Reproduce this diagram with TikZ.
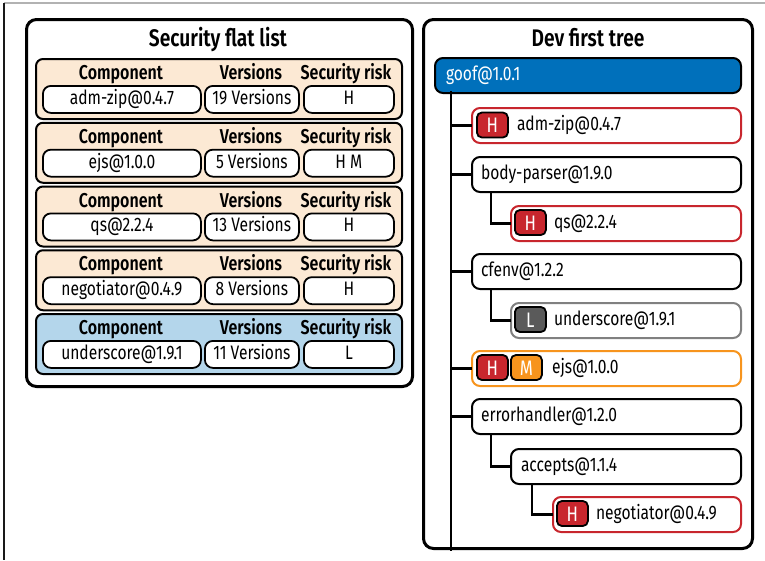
\documentclass[tikz,border=0pt]{standalone}
\usepackage{fontspec}
\setmainfont{Fira Sans}[FakeStretch=0.8, BoldFont={Fira Sans SemiBold}]
\definecolor{peach}{RGB}{252,233,212}
\definecolor{lowblue}{RGB}{180,214,235}
\definecolor{rootblue}{RGB}{0,112,187}
\definecolor{hred}{RGB}{200,38,45}
\definecolor{morange}{RGB}{247,148,29}
\definecolor{lgray}{RGB}{128,128,128}
\definecolor{lfill}{RGB}{90,90,90}
\newcommand\mybody{\fontsize{19.5}{23}\selectfont}
\newcommand\mybadge{\fontsize{21}{24}\selectfont}
\newcommand\myhead{\fontsize{20}{23}\selectfont\bfseries}
\newcommand\mytitle{\fontsize{24}{28}\selectfont\bfseries}
\begin{document}
\begin{tikzpicture}[x=1pt,y=-1pt,
  panel/.style={draw, line width=3pt, rounded corners=10pt, anchor=north west, inner sep=0pt},
  ptitle/.style={font=\mytitle, inner sep=0pt, anchor=base},
  rowbox/.style={draw, line width=2pt, rounded corners=7pt, minimum width=366pt,
    minimum height=60pt, anchor=north west, inner sep=0pt},
  hdr/.style={font=\myhead, inner sep=0pt, anchor=base},
  cell/.style={draw, line width=1.8pt, rounded corners=8pt, fill=white,
    minimum height=27pt, anchor=north west, inner sep=0pt, font=\mybody,
    text height=14pt, text depth=4pt},
  tnode/.style={draw, line width=2pt, rounded corners=8pt, fill=white,
    minimum height=35pt, anchor=north west, inner xsep=0pt, inner ysep=0pt,
    text width=#1, align=left, font=\mybody, text height=14pt, text depth=4pt},
  badge/.style={draw, line width=1.8pt, rounded corners=5pt, minimum width=31pt,
    minimum height=25pt, inner sep=0pt, text=white, font=\mybadge, anchor=west,
    text height=15pt, text depth=0pt},
  link/.style={line width=2.5pt, line cap=rect}]
\useasboundingbox (0,0) rectangle (765,560);

% page rules
\draw[gray!60, line width=1.3pt] (4,3) -- (765,3);
\draw[black!90, line width=2pt] (4,3) -- (4,560);

% ---------- flat list ----------
\node[panel, minimum width=386pt, minimum height=367pt] (flat) at (25,18) {};
\node[ptitle] (flattitle) at (218,46) {Security flat list};

\foreach \i/\comp/\ver/\risk/\fc in {
  0/adm-zip@0.4.7/19 Versions/H/peach,
  1/ejs@1.0.0/5 Versions/H M/peach,
  2/qs@2.2.4/13 Versions/H/peach,
  3/negotiator@0.4.9/8 Versions/H/peach,
  4/underscore@1.9.1/11 Versions/L/lowblue}{
  \pgfmathsetmacro\t{58+63.75*\i}
  \node[rowbox, fill=\fc] (row\i) at (35,\t) {};
  \node[hdr] (hc\i) at (121,\t+21.5) {Component};
  \node[hdr] (hv\i) at (251,\t+21.5) {Versions};
  \node[hdr] (hr\i) at (346,\t+21.5) {Security risk};
  \node[cell, minimum width=158pt] (comp\i) at (42,\t+27) {\comp};
  \node[cell, minimum width=94pt] (ver\i) at (204,\t+27) {\ver};
  \node[cell, minimum width=90pt] (risk\i) at (303,\t+27) {\risk};
}

% ---------- dependency tree ----------
\node[panel, minimum width=329pt, minimum height=529pt] (tree) at (422,18) {};
\node[ptitle] (treetitle) at (588,46) {Dev first tree};

\node[tnode=306pt, fill=rootblue, text=white] (goof) at (434,57) {\hspace*{11pt}goof@1.0.1};
\node[tnode=269pt, draw=hred] (admzip) at (471,107) {\hspace*{45pt}adm-zip@0.4.7};
\node[tnode=269pt] (bodyparser) at (471,156) {\hspace*{9pt}body-parser@1.9.0};
\node[tnode=230pt, draw=hred] (qs) at (510,205) {\hspace*{43pt}qs@2.2.4};
\node[tnode=269pt] (cfenv) at (471,253) {\hspace*{9pt}cfenv@1.2.2};
\node[tnode=230pt, draw=lgray] (underscore) at (510,302) {\hspace*{43pt}underscore@1.9.1};
\node[tnode=269pt, draw=morange] (ejs) at (471,350) {\hspace*{80pt}ejs@1.0.0};
\node[tnode=269pt] (errorhandler) at (471,398) {\hspace*{9pt}errorhandler@1.2.0};
\node[tnode=230pt] (accepts) at (510,448) {\hspace*{10pt}accepts@1.1.4};
\node[tnode=188pt, draw=hred] (negotiator) at (552,496) {\hspace*{43pt}negotiator@0.4.9};

% severity badges
\node[badge, fill=hred] (bAdm) at (476,125) {H};
\node[badge, fill=hred] (bQs) at (514,222.5) {H};
\node[badge, fill=lfill] (bUnd) at (514,319.5) {L};
\node[badge, fill=hred] (bEjsH) at (476,367.5) {H};
\node[badge, fill=morange] (bEjsM) at (510,367.5) {M};
\node[badge, fill=hred] (bNeg) at (556,513.5) {H};

% tree links
\coordinate (trunk) at (451,92);
\draw[link] (trunk) -- (trunk |- tree.south);
\foreach \c in {admzip,bodyparser,cfenv,ejs,errorhandler}
  \draw[link] (\c.west -| trunk) -- (\c.west);
\draw[link] ([xshift=20pt]bodyparser.south west) |- (qs.west);
\draw[link] ([xshift=20pt]cfenv.south west) |- (underscore.west);
\draw[link] ([xshift=20pt]errorhandler.south west) |- (accepts.west);
\draw[link] ([xshift=22pt]accepts.south west) |- (negotiator.west);
\end{tikzpicture}
\end{document}
